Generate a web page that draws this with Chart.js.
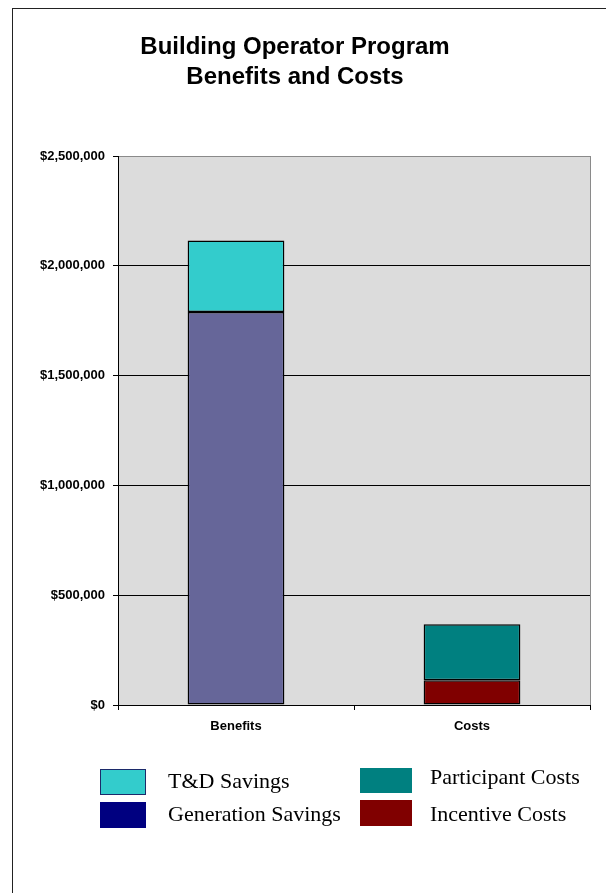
<!DOCTYPE html>
<html>
<head>
<meta charset="utf-8">
<script src="https://cdn.jsdelivr.net/npm/chart.js@4/dist/chart.umd.min.js"></script>
<style>
  body { margin: 0; background: #fff; }
  canvas { display: block; }
</style>
</head>
<body>
<canvas id="chart" width="606" height="893"></canvas>
<script>
// chart data
const categories = ['Benefits', 'Costs'];
const seriesNames = ['Generation Savings', 'T&D Savings', 'Incentive Costs', 'Participant Costs'];
const generationSavings = [1790000, null];
const tdSavings = [325000, null];
const incentiveCosts = [null, 113000];
const participantCosts = [null, 255000];
const yTicks = [0, 500000, 1000000, 1500000, 2000000, 2500000];

const barColors = ['#666699', '#33cccc', '#800000', '#008080'];
// legend swatch for generation is navy in the original, not the bar colour
const legendColors = ['#000080', '#33cccc', '#800000', '#008080'];

const fmt = v => '$' + v.toLocaleString('en-US');

const bgPlugin = {
  id: 'bg',
  beforeDraw(chart) {
    const { ctx, chartArea: a } = chart;
    ctx.save();
    ctx.fillStyle = '#fff';
    ctx.fillRect(0, 0, chart.width, chart.height);
    ctx.fillStyle = '#dcdcdc';
    ctx.fillRect(a.left, a.top, a.right - a.left, a.bottom - a.top);
    ctx.strokeStyle = '#8a8a8a';
    ctx.lineWidth = 1;
    ctx.strokeRect(a.left + 0.5, a.top + 0.5, a.right - a.left, a.bottom - a.top);
    // outer frame
    ctx.strokeStyle = '#222';
    ctx.strokeRect(12.5, 8.5, 620, 900);
    ctx.restore();
  }
};

const legendPlugin = {
  id: 'boxLegend',
  afterDraw(chart) {
    const ctx = chart.ctx;
    // [dataset index, swatch x, swatch y, w, h, text x, text y]
    const items = [
      [1, 100, 769, 46, 26, 168, 782],
      [0, 100, 802, 46, 26, 168, 815],
      [3, 360, 768, 52, 25, 430, 778],
      [2, 360, 800, 52, 26, 430, 815]
    ];
    ctx.save();
    ctx.font = '22px "Liberation Serif", "Times New Roman", serif';
    ctx.textBaseline = 'middle';
    ctx.textAlign = 'left';
    items.forEach(([i, x, y, w, h, tx, ty]) => {
      ctx.fillStyle = legendColors[i];
      ctx.fillRect(x, y, w, h);
      if (i === 1) {
        ctx.strokeStyle = '#1c2a6a';
        ctx.lineWidth = 1;
        ctx.strokeRect(x + 0.5, y + 0.5, w - 1, h - 1);
      }
      ctx.fillStyle = '#000';
      ctx.fillText(chart.data.datasets[i].label, tx, ty);
    });
    ctx.restore();
  }
};

const seriesValues = [generationSavings, tdSavings, incentiveCosts, participantCosts];

new Chart(document.getElementById('chart'), {
  type: 'bar',
  data: {
    labels: categories,
    datasets: seriesNames.map((name, i) => ({
      label: name,
      data: seriesValues[i],
      backgroundColor: barColors[i],
      borderColor: '#000',
      borderWidth: 1.5,
      borderSkipped: false,
      barPercentage: 0.41,
      categoryPercentage: 1
    }))
  },
  options: {
    responsive: false,
    animation: false,
    layout: { padding: { left: 0, right: 16, top: 0, bottom: 0 } },
    plugins: {
      legend: { display: false },
      tooltip: { enabled: false },
      title: {
        display: true,
        text: ['Building Operator Program', 'Benefits and Costs'],
        color: '#000',
        font: { family: 'Liberation Sans, Arial, sans-serif', size: 24, weight: 'bold', lineHeight: 1.25 },
        padding: { top: 32, bottom: 64 }
      }
    },
    scales: {
      x: {
        stacked: true,
        grid: { offset: true, drawOnChartArea: false, tickLength: 5, color: '#000' },
        border: { color: '#000', width: 1 },
        ticks: {
          color: '#000',
          padding: 9,
          font: { family: 'Liberation Sans, Arial, sans-serif', size: 13, weight: 'bold' }
        },
        afterFit(scale) { scale.height = 188; }
      },
      y: {
        stacked: true,
        min: 0,
        max: 2500000,
        afterBuildTicks(scale) { scale.ticks = yTicks.map(v => ({ value: v })); },
        grid: {
          color: ctx => ctx.tick && ctx.tick.value === 2500000 ? '#8a8a8a' : '#000',
          tickColor: '#000',
          tickLength: 5,
          lineWidth: 1
        },
        border: { color: '#000', width: 1 },
        ticks: {
          color: '#000',
          padding: 8,
          callback: v => fmt(v),
          font: { family: 'Liberation Sans, Arial, sans-serif', size: 13, weight: 'bold' }
        },
        afterFit(scale) { scale.width = 118; }
      }
    }
  },
  plugins: [bgPlugin, legendPlugin]
});
</script>
</body>
</html>
